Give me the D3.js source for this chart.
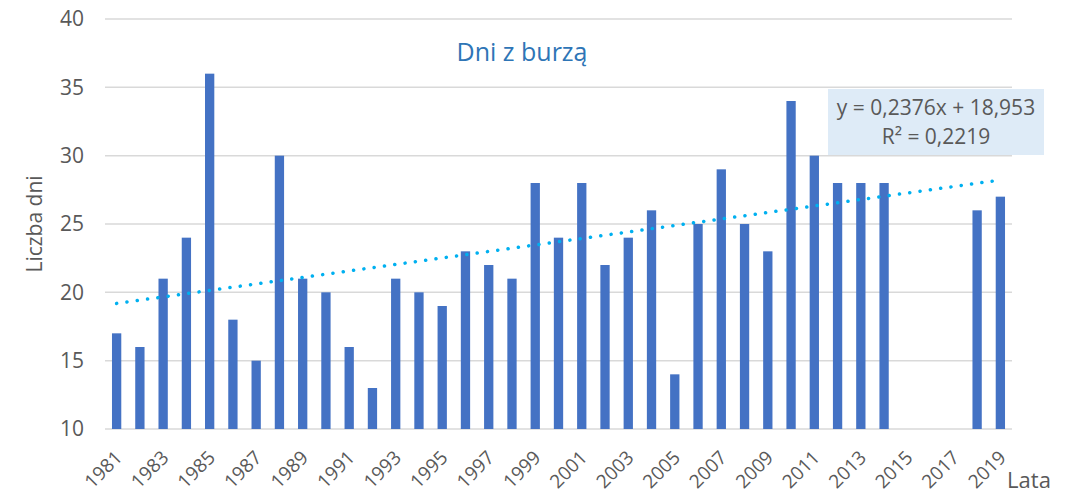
<!DOCTYPE html>
<html>
<head>
    <meta charset="UTF-8">
    <title>Dni z burzą</title>
    <script src="https://d3js.org/d3.v7.min.js"></script>
    <style>
        body { margin: 0; background: #fff; }
        text { font-family: "Open Sans", sans-serif; }
        .grid line { stroke: #d9d9d9; stroke-width: 1.5px; }
    </style>
</head>
<body>
    <div id="chart"></div>
    <script>
        const years = d3.range(1981, 2020);
        // null = no data (2015-2017)
        const days = [17, 16, 21, 24, 36, 18, 15, 30, 21, 20, 16, 13, 21, 20, 19, 23, 22, 21, 28, 24,
                      28, 22, 24, 26, 14, 25, 29, 25, 23, 34, 30, 28, 28, 28, null, null, null, 26, 27];
        const yTicks = [10, 15, 20, 25, 30, 35, 40];
        const trend = { slope: 0.2376, intercept: 18.953 };
        const eqLines = ["y = 0,2376x + 18,953", "R² = 0,2219"];

        const width = 1066, height = 496;
        const margin = { top: 19, right: 54, bottom: 67, left: 105 };

        const svg = d3.select("#chart").append("svg")
            .attr("width", width)
            .attr("height", height);

        const x = d3.scaleBand()
            .domain(years)
            .range([margin.left, width - margin.right])
            .paddingInner(0.6)
            .paddingOuter(0.3);

        const y = d3.scaleLinear()
            .domain([10, 40])
            .range([height - margin.bottom, margin.top]);

        // gridlines
        svg.append("g").attr("class", "grid")
            .selectAll("line")
            .data(yTicks)
            .join("line")
            .attr("x1", margin.left)
            .attr("x2", width - margin.right)
            .attr("y1", d => y(d))
            .attr("y2", d => y(d));

        // y tick labels
        svg.append("g")
            .selectAll("text")
            .data(yTicks)
            .join("text")
            .attr("x", 84)
            .attr("y", d => y(d))
            .attr("dy", "0.35em")
            .attr("text-anchor", "end")
            .attr("fill", "#595959")
            .attr("font-size", 21)
            .text(d => d);

        // bars
        const data = years.map((yr, i) => ({ yr, v: days[i] })).filter(d => d.v != null);
        svg.append("g")
            .selectAll("rect")
            .data(data)
            .join("rect")
            .attr("x", d => x(d.yr))
            .attr("width", x.bandwidth())
            .attr("y", d => y(d.v))
            .attr("height", d => y(10) - y(d.v))
            .attr("fill", "#4472c4");

        // linear trend, dotted
        const cx = yr => x(yr) + x.bandwidth() / 2;
        svg.append("path")
            .datum(years.map((yr, i) => [cx(yr), y(trend.slope * (i + 1) + trend.intercept)]))
            .attr("d", d3.line())
            .attr("fill", "none")
            .attr("stroke", "#00b0f0")
            .attr("stroke-width", 3.5)
            .attr("stroke-linecap", "round")
            .attr("stroke-dasharray", "0.1 10.3");

        // x tick labels, odd years only
        svg.append("g")
            .selectAll("text")
            .data(years.filter(yr => yr % 2 === 1))
            .join("text")
            .attr("transform", yr => `translate(${cx(yr) + 2},${y(10) + 25}) rotate(-45)`)
            .attr("text-anchor", "end")
            .attr("dy", "0.35em")
            .attr("fill", "#595959")
            .attr("font-size", 19)
            .text(d => d);

        // title
        svg.append("text")
            .attr("x", 522)
            .attr("y", 52)
            .attr("dy", "0.35em")
            .attr("text-anchor", "middle")
            .attr("fill", "#2e75b6")
            .attr("font-size", 25)
            .text("Dni z burzą");

        // axis titles
        svg.append("text")
            .attr("transform", "translate(35,224) rotate(-90)")
            .attr("dy", "0.35em")
            .attr("text-anchor", "middle")
            .attr("fill", "#595959")
            .attr("font-size", 21)
            .text("Liczba dni");

        svg.append("text")
            .attr("x", 1029)
            .attr("y", 480)
            .attr("dy", "0.35em")
            .attr("text-anchor", "middle")
            .attr("fill", "#595959")
            .attr("font-size", 22)
            .text("Lata");

        // trendline equation box
        const eq = svg.append("g");
        eq.append("rect")
            .attr("x", 828).attr("y", 89)
            .attr("width", 216).attr("height", 66)
            .attr("fill", "#deebf7");
        eq.selectAll("text")
            .data(eqLines)
            .join("text")
            .attr("x", 936)
            .attr("y", (d, i) => 108 + i * 29)
            .attr("dy", "0.35em")
            .attr("text-anchor", "middle")
            .attr("fill", "#595959")
            .attr("font-size", 21)
            .text(d => d);
    </script>
</body>
</html>
